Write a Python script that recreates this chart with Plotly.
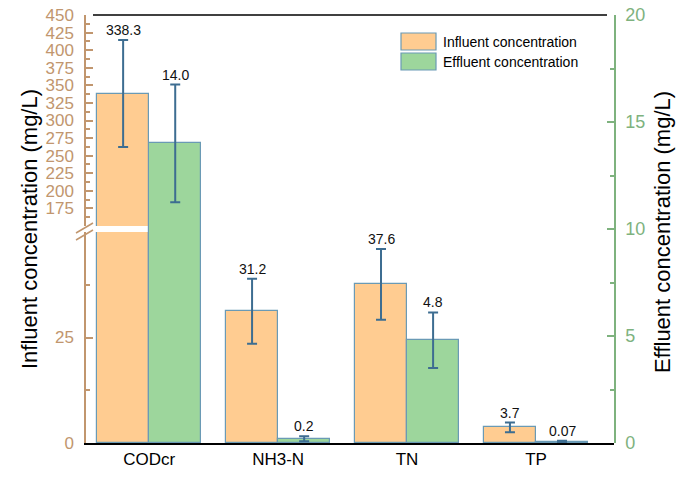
import plotly.graph_objects as go

# ---------------- data ----------------
categories = ["CODcr", "NH3-N", "TN", "TP"]
influent = [338.3, 31.2, 37.6, 3.7]
influent_err = [76.0, 7.7, 8.4, 1.15]
effluent = [14.0, 0.2, 4.8, 0.07]
effluent_err = [2.75, 0.12, 1.3, 0.03]
influent_labels = ["338.3", "31.2", "37.6", "3.7"]
effluent_labels = ["14.0", "0.2", "4.8", "0.07"]
series_names = ["Influent concentration", "Effluent concentration"]

# broken left axis: lower and upper segments
lower_range = [0, 50]
upper_range = [150, 450]
lower_ticks = [0, 25]
upper_ticks = [175, 200, 225, 250, 275, 300, 325, 350, 375, 400, 425, 450]
right_range = [0, 20]

# ---------------- style ----------------
FONT = "Arial, Liberation Sans, sans-serif"
ORANGE = "#FFCC91"
GREEN = "#9DD69C"
EDGE = "#6A9AB5"
ERR = "#3D6D91"
BROWN = "#C1966E"
GREENAX = "#7EB27E"

W, H = 677, 477
ML, MR, MT, MB = 86, 63, 15, 34
PW, PH = W - ML - MR, H - MT - MB
GAP = 6  # px gap of the axis break
seg = (PH - GAP) / 2
lower_dom = [0, seg / PH]
upper_dom = [(seg + GAP) / PH, 1]


def px_x(px):
    return (px - ML) / PW


def px_y(py):
    return (H - MB - py) / PH


xs = list(range(len(categories)))
bw = 0.404

fig = go.Figure()

# influent on lower segment (CODcr error shown on upper segment)
lower_err = [None] + influent_err[1:]
fig.add_trace(go.Bar(
    x=xs, y=influent, xaxis="x", yaxis="y", name=series_names[0],
    width=bw, offset=-bw, marker=dict(color=ORANGE, line=dict(color=EDGE, width=1.2)),
    error_y=dict(type="data", array=lower_err, color=ERR, thickness=2, width=5),
    showlegend=False,
))
# influent on upper segment (only values in that range)
up_idx = [i for i, v in enumerate(influent) if v > upper_range[0]]
fig.add_trace(go.Bar(
    x=[xs[i] for i in up_idx], y=[influent[i] for i in up_idx], xaxis="x", yaxis="y3",
    width=bw, offset=-bw, marker=dict(color=ORANGE, line=dict(color=EDGE, width=1.2)),
    error_y=dict(type="data", array=[influent_err[i] for i in up_idx], color=ERR, thickness=2, width=5),
    showlegend=False,
))
# effluent on right axis
fig.add_trace(go.Bar(
    x=xs, y=effluent, xaxis="x", yaxis="y2", name=series_names[1],
    width=bw, offset=0, marker=dict(color=GREEN, line=dict(color=EDGE, width=1.2)),
    error_y=dict(type="data", array=effluent_err, color=ERR, thickness=2, width=5),
    showlegend=False,
))

annotations = []
for i, (v, e, t) in enumerate(zip(influent, influent_err, influent_labels)):
    yref = "y3" if v > upper_range[0] else "y"
    annotations.append(dict(x=xs[i] - bw / 2, y=v + e, xref="x", yref=yref, text=t,
                            showarrow=False, yanchor="bottom", yshift=0,
                            font=dict(family=FONT, size=14, color="#111")))
for i, (v, e, t) in enumerate(zip(effluent, effluent_err, effluent_labels)):
    annotations.append(dict(x=xs[i] + bw / 2, y=v + e, xref="x", yref="y2", text=t,
                            showarrow=False, yanchor="bottom", yshift=0,
                            font=dict(family=FONT, size=14, color="#111")))

annotations.append(dict(x=px_x(29), y=px_y(229), xref="paper", yref="paper", xanchor="center",
                        yanchor="middle", text="Influent concentration (mg/L)", textangle=-90,
                        showarrow=False, font=dict(family=FONT, size=22, color="#000")))
annotations.append(dict(x=px_x(662), y=px_y(232), xref="paper", yref="paper", xanchor="center",
                        yanchor="middle", text="Effluent concentration (mg/L)", textangle=-90,
                        showarrow=False, font=dict(family=FONT, size=22, color="#000")))

shapes = [
    # top frame line
    dict(type="line", xref="paper", yref="paper", x0=px_x(93), x1=px_x(607), y0=1, y1=1,
         line=dict(color="#000", width=1.5)),
    # axis-break marks
    dict(type="line", xref="paper", yref="paper", x0=px_x(76), y0=px_y(233), x1=px_x(93), y1=px_y(223),
         line=dict(color=BROWN, width=1.5)),
    dict(type="line", xref="paper", yref="paper", x0=px_x(76), y0=px_y(240), x1=px_x(93), y1=px_y(230),
         line=dict(color=BROWN, width=1.5)),
]

# legend drawn as swatches + text
for k, (name, col) in enumerate(zip(series_names, [ORANGE, GREEN])):
    top = 33 + k * 20
    shapes.append(dict(type="rect", xref="paper", yref="paper", x0=px_x(401), x1=px_x(436),
                       y0=px_y(top + 17), y1=px_y(top), fillcolor=col,
                       line=dict(color=EDGE, width=1.2)))
    annotations.append(dict(x=px_x(441), y=px_y(top + 8.5), xref="paper", yref="paper",
                            xanchor="left", yanchor="middle", text=name, showarrow=False,
                            font=dict(family=FONT, size=14, color="#000")))

common_left = dict(showline=True, linecolor=BROWN, linewidth=1.5, ticks="inside", ticklen=7,
                   tickcolor=BROWN, tickwidth=1.5, showgrid=False, zeroline=False,
                   tickfont=dict(family=FONT, size=17, color=BROWN), anchor="x", side="left",
                   automargin=False, ticklabelstandoff=7)

fig.update_layout(
    width=W, height=H, margin=dict(l=ML, r=MR, t=MT, b=MB, autoexpand=False),
    paper_bgcolor="white", plot_bgcolor="rgba(0,0,0,0)",
    barmode="overlay", bargap=0, showlegend=False,
    font=dict(family=FONT, color="#000"),
    xaxis=dict(range=[-0.49, 3.605], tickvals=xs, ticktext=categories, showline=True,
               linecolor="#000", linewidth=1.5, ticks="", showgrid=False, zeroline=False,
               tickfont=dict(family=FONT, size=17, color="#000"), anchor="y", automargin=False),
    yaxis=dict(domain=lower_dom, range=lower_range, tickvals=lower_ticks,
               minor=dict(tickvals=[12.5, 37.5], ticks="inside", ticklen=4, tickcolor=BROWN, tickwidth=1.5),
               **common_left),
    yaxis3=dict(domain=upper_dom, range=upper_range, tickvals=upper_ticks,
                minor=dict(tickvals=[t - 12.5 for t in upper_ticks], ticks="inside", ticklen=4,
                           tickcolor=BROWN, tickwidth=1.5),
                **common_left),
    yaxis2=dict(domain=[0, 1], range=right_range, side="right", anchor="x", dtick=5,
                showline=True, linecolor=GREENAX, linewidth=1.5, ticks="inside", ticklen=7,
                tickcolor=GREENAX, tickwidth=1.5, showgrid=False, zeroline=False,
                minor=dict(dtick=2.5, ticks="inside", ticklen=4, tickcolor=GREENAX, tickwidth=1.5),
                tickfont=dict(family=FONT, size=18, color=GREENAX), automargin=False,
                ticklabelstandoff=6),
    annotations=annotations, shapes=shapes,
)

fig.write_html("out.html")
